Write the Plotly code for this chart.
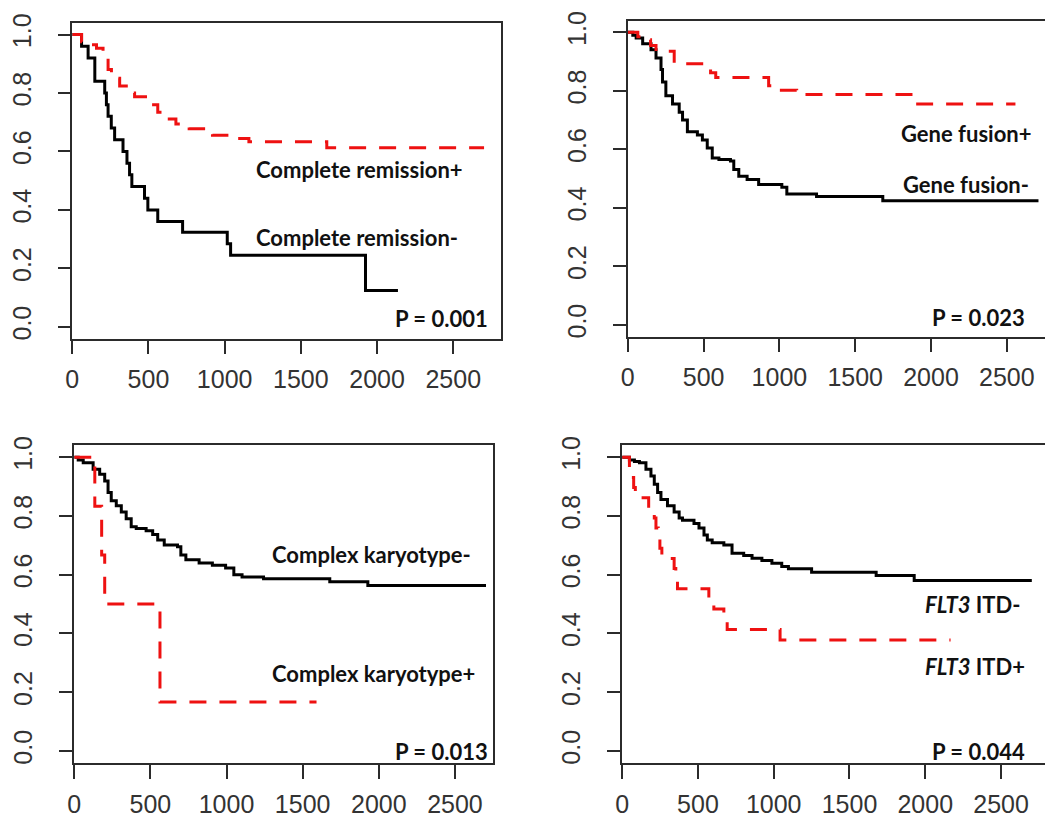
import plotly.graph_objects as go

# ---------------- data ----------------
# Panel 1: Complete remission
cr_neg_t = [0, 61, 104, 148, 213, 224, 235, 256, 278, 333, 359, 376, 391, 474, 496, 561, 724, 1017, 1039, 1924, 2137]
cr_neg_s = [1.0, 0.96, 0.92, 0.84, 0.80, 0.76, 0.72, 0.68, 0.64, 0.60, 0.56, 0.52, 0.48, 0.44, 0.40, 0.36, 0.324, 0.284, 0.245, 0.124, 0.124]
cr_pos_t = [0, 61, 93, 159, 202, 235, 257, 311, 365, 409, 517, 561, 604, 680, 767, 920, 1028, 1159, 1670, 2702]
cr_pos_s = [1.0, 0.975, 0.965, 0.953, 0.925, 0.88, 0.85, 0.824, 0.80, 0.787, 0.76, 0.734, 0.711, 0.694, 0.678, 0.655, 0.644, 0.633, 0.613, 0.613]

# Panel 2: Gene fusion
gf_neg_t = [0, 33, 55, 98, 153, 186, 219, 229, 251, 295, 339, 361, 393, 459, 492, 524, 557, 601, 677, 699, 732, 787, 863, 1016, 1049, 1245, 1682, 2709]
gf_neg_s = [1.0, 0.99, 0.98, 0.961, 0.94, 0.912, 0.873, 0.83, 0.783, 0.755, 0.727, 0.70, 0.66, 0.649, 0.632, 0.604, 0.57, 0.565, 0.56, 0.531, 0.508, 0.497, 0.48, 0.47, 0.447, 0.439, 0.424, 0.424]
gf_pos_t = [0, 66, 98, 150, 186, 306, 546, 580, 929, 960, 1114, 1912, 2557]
gf_pos_s = [1.0, 0.985, 0.974, 0.955, 0.935, 0.892, 0.862, 0.845, 0.817, 0.802, 0.787, 0.755, 0.755]

# Panel 3: Complex karyotype
ck_neg_t = [0, 26, 59, 124, 167, 200, 222, 243, 276, 309, 341, 374, 407, 472, 515, 548, 591, 678, 700, 733, 820, 907, 994, 1048, 1102, 1243, 1678, 1928, 2704]
ck_neg_s = [1.0, 0.99, 0.981, 0.959, 0.942, 0.919, 0.88, 0.852, 0.835, 0.813, 0.79, 0.763, 0.757, 0.75, 0.737, 0.718, 0.701, 0.695, 0.667, 0.651, 0.64, 0.632, 0.623, 0.60, 0.592, 0.586, 0.576, 0.563, 0.563]
ck_pos_t = [0, 135, 180, 200, 563, 1591]
ck_pos_s = [1.0, 0.833, 0.667, 0.5, 0.167, 0.167]

# Panel 4: FLT3 ITD
itd_neg_t = [0, 48, 81, 114, 157, 190, 212, 234, 256, 299, 343, 376, 398, 474, 507, 540, 562, 594, 671, 725, 802, 857, 922, 988, 1053, 1097, 1250, 1676, 1927, 2703]
itd_neg_s = [1.0, 0.99, 0.985, 0.981, 0.959, 0.936, 0.908, 0.88, 0.856, 0.835, 0.813, 0.793, 0.785, 0.774, 0.759, 0.735, 0.718, 0.709, 0.701, 0.673, 0.665, 0.656, 0.648, 0.639, 0.628, 0.62, 0.608, 0.597, 0.58, 0.58]
itd_pos_t = [0, 48, 59, 76, 87, 175, 212, 223, 238, 249, 262, 343, 354, 365, 572, 605, 671, 693, 1042, 2167]
itd_pos_s = [1.0, 0.966, 0.931, 0.897, 0.862, 0.828, 0.793, 0.759, 0.724, 0.690, 0.655, 0.621, 0.586, 0.552, 0.517, 0.483, 0.448, 0.414, 0.378, 0.378]

x_ticks = [0, 500, 1000, 1500, 2000, 2500]
y_ticks = [0.0, 0.2, 0.4, 0.6, 0.8, 1.0]
y_tick_labels = ["0.0", "0.2", "0.4", "0.6", "0.8", "1.0"]

panels = [
    dict(neg=(cr_neg_t, cr_neg_s), pos=(cr_pos_t, cr_pos_s),
         labels=[("Complete remission+", 1886, 0.538), ("Complete remission-", 1870, 0.306)],
         p=("P = 0.001", 2740, 0.029)),
    dict(neg=(gf_neg_t, gf_neg_s), pos=(gf_pos_t, gf_pos_s),
         labels=[("Gene fusion+", 2228, 0.653), ("Gene fusion-", 2228, 0.481)],
         p=("P = 0.023", 2634, 0.024)),
    dict(neg=(ck_neg_t, ck_neg_s), pos=(ck_pos_t, ck_pos_s),
         labels=[("Complex karyotype-", 1952, 0.668), ("Complex karyotype+", 1962, 0.265)],
         p=("P = 0.013", 2728, 0.0)),
    dict(neg=(itd_neg_t, itd_neg_s), pos=(itd_pos_t, itd_pos_s),
         labels=[("<i>FLT3</i> ITD-", 2318, 0.50), ("<i>FLT3</i> ITD+", 2331, 0.286)],
         p=("P = 0.044", 2671, 0.0)),
]

W, H = 1045, 824
# plot boxes in pixels: left, right, top, bottom, x-range max, right border?
boxes = [
    (65.7, 497.0, 14.0, 334.0, 2811, True),
    (625.0, 1045.0, 11.7, 332.0, 2752, False),
    (67.7, 489.3, 442.3, 764.0, 2750, True),
    (619.3, 1045.0, 442.3, 764.0, 2790, False),
]

fig = go.Figure()
layout = dict(width=W, height=H, margin=dict(l=0, r=0, t=0, b=0),
              paper_bgcolor="white", plot_bgcolor="white", showlegend=False)
annotations = []
axis_color = "#2b2b2b"
tick_font = dict(family="Liberation Sans, Arial", size=25, color="#333333")
label_font = dict(family="Lato", size=22, color="#111111")

for i, (pn, bx) in enumerate(zip(panels, boxes)):
    k = "" if i == 0 else str(i + 1)
    left, right, top, bottom, xmax, rborder = bx
    xa = "xaxis" + k
    ya = "yaxis" + k
    layout[xa] = dict(domain=[left / W, min(right / W, 1.0)], range=[0, xmax], anchor="y" + k,
                      tickmode="array", tickvals=x_ticks, ticks="outside", ticklen=14,
                      tickwidth=1.5, tickcolor=axis_color, showline=True, linecolor=axis_color,
                      linewidth=1.5, mirror=True, showgrid=False, zeroline=False,
                      tickfont=tick_font, ticklabelstandoff=4, fixedrange=True)
    layout[ya] = dict(domain=[1 - bottom / H, 1 - top / H], range=[-0.04, 1.04], anchor="x" + k,
                      tickmode="array", tickvals=y_ticks, ticktext=y_tick_labels, tickangle=-90,
                      ticks="outside", ticklen=13, tickwidth=1.5, tickcolor=axis_color,
                      showline=True, linecolor=axis_color, linewidth=1.5,
                      mirror=True if rborder else False, showgrid=False, zeroline=False,
                      tickfont=tick_font, ticklabelstandoff=17, fixedrange=True)
    fig.add_trace(go.Scatter(x=pn["neg"][0], y=pn["neg"][1], mode="lines", line_shape="hv",
                             line=dict(color="black", width=3), xaxis="x" + k, yaxis="y" + k))
    fig.add_trace(go.Scatter(x=pn["pos"][0], y=pn["pos"][1], mode="lines", line_shape="hv",
                             line=dict(color="#ee1111", width=3, dash="17px,13px"),
                             xaxis="x" + k, yaxis="y" + k))
    for txt, x, y in pn["labels"]:
        annotations.append(dict(text="<b>" + txt + "</b>", x=x, y=y, xref="x" + k, yref="y" + k,
                                showarrow=False, xanchor="center", yanchor="middle", font=label_font))
    txt, x, y = pn["p"]
    annotations.append(dict(text="<b>" + txt + "</b>", x=x, y=y, xref="x" + k, yref="y" + k,
                            showarrow=False, xanchor="right", yanchor="middle", font=label_font))

layout["annotations"] = annotations
fig.update_layout(**layout)
fig.write_html("out.html", config={"displayModeBar": False},
               post_script="document.body.style.margin='0px';document.body.style.overflow='hidden';")
